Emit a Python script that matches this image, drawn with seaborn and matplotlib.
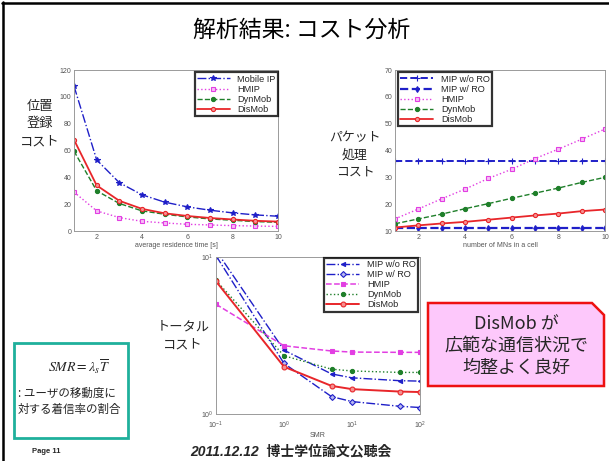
import matplotlib
matplotlib.use("Agg")
import matplotlib.pyplot as plt
import seaborn as sns
from matplotlib.patches import Rectangle, Polygon
from matplotlib.lines import Line2D
from matplotlib.ticker import NullFormatter, LogLocator

# ---------------- data ----------------
res_time = [1, 2, 3, 4, 5, 6, 7, 8, 9, 10]
reg_mobileip = [108, 53, 36, 27, 21.5, 18, 15.5, 13.5, 12, 11]
reg_hmip = [29, 15, 10, 7.2, 6, 5, 4.5, 4, 3.7, 3.4]
reg_dynmob = [59.5, 30, 20.5, 15, 12.5, 10.5, 9, 8, 7, 6.5]
reg_dismob = [68, 34, 22.5, 16.5, 13.2, 11.2, 9.7, 8.6, 7.6, 7]

num_mns = [1, 2, 3, 4, 5, 6, 7, 8, 9, 10]
pkt_mip_wo_ro = [36, 36, 36, 36, 36, 36, 36, 36, 36, 36]
pkt_mip_w_ro = [11, 11, 11, 11, 11, 11, 11, 11, 11, 11]
pkt_hmip = [14.5, 18.2, 22, 25.6, 29.6, 33, 37, 40.5, 44.2, 48]
pkt_dynmob = [12.7, 14.5, 16.3, 18.3, 20.2, 22.2, 24.1, 26, 28.1, 30]
pkt_dismob = [11.3, 12.1, 12.8, 13.4, 14.2, 15, 15.8, 16.5, 17.4, 18]

smr = [0.1, 1, 5, 10, 50, 100]
tot_mip_wo_ro = [11.0, 2.55, 1.80, 1.70, 1.63, 1.62]
tot_mip_w_ro = [10.2, 2.1, 1.29, 1.20, 1.12, 1.10]
tot_hmip = [5.0, 2.72, 2.52, 2.48, 2.47, 2.47]
tot_dynmob = [7.1, 2.35, 1.93, 1.88, 1.84, 1.84]
tot_dismob = [7.0, 2.0, 1.51, 1.44, 1.39, 1.38]

title = "解析結果: コスト分析"
label_reg = "位置\n登録\nコスト"
label_pkt = "パケット\n処理\nコスト"
label_tot = "トータル\nコスト"
note_text = ": ユーザの移動度に\n対する着信率の割合"
callout = "DisMob が\n広範な通信状況で\n均整よく良好"
footer_page = "Page 11"
footer_event = "2011.12.12  博士学位論文公聴会"

# ---------------- style ----------------
sns.set_theme(style="white")
plt.rcParams['font.family'] = ['Noto Sans CJK JP', 'DejaVu Sans']

W, H = 609, 461
fig = plt.figure(figsize=(W / 100, H / 100), dpi=100)
fig.patch.set_facecolor("white")


def fx(x):
    return x / W


def fy(y):
    return 1 - y / H


def axes_px(l, t, r, b):
    return fig.add_axes([fx(l), fy(b), (r - l) / W, (b - t) / H])


BLUE = "#1f1fc8"
MAG = "#e23ee2"
GREEN = "#1f7f2a"
RED = "#e8262a"
TICKC = "#555555"
LEGFONT = {'family': ['Liberation Sans', 'DejaVu Sans'], 'size': 6.6}


def style_axes(ax):
    for s in ax.spines.values():
        s.set_color("#9a9a9a")
        s.set_linewidth(0.7)
    ax.tick_params(direction='in', length=2, width=0.5, labelsize=5,
                   colors=TICKC, pad=2)
    for lab in ax.get_xticklabels() + ax.get_yticklabels():
        lab.set_family(['Liberation Sans', 'DejaVu Sans'])


def line(ax, x, y, color, ls, marker, label, ms=3.5, lw=1.0, mfc=None):
    sns.lineplot(x=x, y=y, ax=ax, color=color, linestyle=ls, marker=marker,
                 markersize=ms, linewidth=lw, label=label,
                 markerfacecolor=(mfc if mfc is not None else color),
                 markeredgecolor=color, markeredgewidth=0.8)


def legend(ax, loc, anchor):
    leg = ax.legend(loc=loc, bbox_to_anchor=anchor, prop=LEGFONT,
                    frameon=True, fancybox=False, borderaxespad=0,
                    labelspacing=0.12, handlelength=3.6, handletextpad=0.8,
                    borderpad=0.25)
    leg.get_frame().set_edgecolor("black")
    leg.get_frame().set_linewidth(1.6)
    return leg


# ---------------- chart 1 : registration cost ----------------
ax1 = axes_px(74, 70, 278, 231)
line(ax1, res_time, reg_mobileip, BLUE, '-.', '*', 'Mobile IP', ms=4)
line(ax1, res_time, reg_hmip, MAG, ':', 's', 'HMIP', mfc='#f6c0f6')
line(ax1, res_time, reg_dynmob, GREEN, '--', 'o', 'DynMob', ms=3)
line(ax1, res_time, reg_dismob, RED, '-', 'o', 'DisMob', lw=1.3, ms=3, mfc='#f59090')
ax1.set_xlim(1, 10)
ax1.set_ylim(0, 120)
ax1.set_xticks([2, 4, 6, 8, 10])
ax1.set_yticks([0, 20, 40, 60, 80, 100, 120])
ax1.set_xlabel("average residence time [s]", fontsize=5, color=TICKC,
               labelpad=1, family=['Liberation Sans', 'DejaVu Sans'])
ax1.set_ylabel("")
style_axes(ax1)
legend(ax1, 'upper right', (1.0, 0.985))

# ---------------- chart 2 : packet processing cost ----------------
ax2 = axes_px(395, 70, 605, 231)
line(ax2, num_mns, pkt_mip_wo_ro, BLUE, '--', '+', 'MIP w/o RO', lw=1.4, ms=4)
line(ax2, num_mns, pkt_mip_w_ro, BLUE, '--', 'd', 'MIP w/ RO', lw=1.6, ms=3)
line(ax2, num_mns, pkt_hmip, MAG, ':', 's', 'HMIP', mfc='#f6c0f6')
line(ax2, num_mns, pkt_dynmob, GREEN, '--', 'o', 'DynMob', ms=3)
line(ax2, num_mns, pkt_dismob, RED, '-', 'o', 'DisMob', lw=1.3, ms=3, mfc='#f59090')
ax2.set_xlim(1, 10)
ax2.set_ylim(10, 70)
ax2.set_xticks([2, 4, 6, 8, 10])
ax2.set_yticks([10, 20, 30, 40, 50, 60, 70])
ax2.set_xlabel("number of MNs in a cell", fontsize=5, color=TICKC,
               labelpad=1, family=['Liberation Sans', 'DejaVu Sans'])
ax2.set_ylabel("")
style_axes(ax2)
legend(ax2, 'upper left', (0.015, 0.985))

# ---------------- chart 3 : total cost ----------------
ax3 = axes_px(216, 257, 420, 414)
ax3.set_xscale('log')
ax3.set_yscale('log')
line(ax3, smr, tot_mip_wo_ro, BLUE, '-.', '<', 'MIP w/o RO', ms=3)
line(ax3, smr, tot_mip_w_ro, BLUE, '-.', 'D', 'MIP w/ RO', ms=3, mfc='#b8b8f0')
line(ax3, smr, tot_hmip, MAG, '--', 's', 'HMIP', lw=1.1)
line(ax3, smr, tot_dynmob, GREEN, ':', 'o', 'DynMob', ms=3)
line(ax3, smr, tot_dismob, RED, '-', 'o', 'DisMob', lw=1.4, ms=3.5, mfc='#f59090')
ax3.set_xlim(0.1, 100)
ax3.set_ylim(1, 10)
ax3.xaxis.set_major_locator(LogLocator(base=10))
ax3.yaxis.set_major_locator(LogLocator(base=10))
ax3.xaxis.set_minor_formatter(NullFormatter())
ax3.yaxis.set_minor_formatter(NullFormatter())
ax3.set_xlabel("SMR", fontsize=5, color=TICKC, labelpad=1,
               family=['Liberation Sans', 'DejaVu Sans'])
ax3.set_ylabel("")
style_axes(ax3)
ax3.tick_params(axis='x', pad=4)
ax3.tick_params(which='minor', direction='in', length=1.2, width=0.4,
                colors=TICKC)
legend(ax3, 'upper right', (0.99, 0.995))

# ---------------- slide decorations ----------------
fig.add_artist(Line2D([fx(3), fx(3)], [fy(2), fy(461)], transform=fig.transFigure,
                      color="black", linewidth=1.8))
fig.add_artist(Line2D([fx(2), fx(609)], [fy(3), fy(3)], transform=fig.transFigure,
                      color="black", linewidth=1.8))

fig.text(fx(302), fy(30), title, ha='center', va='center', fontsize=16.5,
         color='black')

fig.text(fx(40), fy(124), label_reg, ha='center', va='center', fontsize=9.5,
         linespacing=1.45, multialignment='center')
fig.text(fx(355), fy(155), label_pkt, ha='center', va='center', fontsize=9.3,
         linespacing=1.45, multialignment='center')
fig.text(fx(183), fy(336), label_tot, ha='center', va='center', fontsize=9.5,
         linespacing=1.45, multialignment='center')

# teal note box
fig.add_artist(Rectangle((fx(14), fy(438)), (128 - 14) / W, (438 - 343) / H,
                         transform=fig.transFigure, facecolor='white',
                         edgecolor='#1fb09c', linewidth=2))
fig.text(fx(79), fy(367), r'$SMR = \lambda_s\overline{T}$', ha='center',
         va='center', fontsize=10, math_fontfamily='stix')
fig.text(fx(18), fy(401), note_text, ha='left', va='center', fontsize=8.3,
         linespacing=1.3)

# pink callout with snipped corner
L, R, T, B, S = 428, 604, 303, 386, 12
poly = Polygon([(fx(L), fy(T)), (fx(R - S), fy(T)), (fx(R), fy(T + S)),
                (fx(R), fy(B)), (fx(L), fy(B))], closed=True,
               transform=fig.transFigure, facecolor='#fdc8fb',
               edgecolor='#ee1111', linewidth=1.8)
fig.add_artist(poly)
fig.text(fx(516), fy(346), callout, ha='center', va='center', fontsize=13,
         linespacing=1.25, multialignment='center')

fig.text(fx(32), fy(451), footer_page, ha='left', va='center', fontsize=5.5,
         fontweight='bold', family=['Liberation Sans', 'DejaVu Sans'])
fig.text(fx(190), fy(451), footer_event, ha='left', va='center', fontsize=10,
         fontweight='bold', style='italic',
         family=['Liberation Sans', 'Noto Sans CJK JP'])

fig.savefig("out.png", dpi=100, facecolor='white')
